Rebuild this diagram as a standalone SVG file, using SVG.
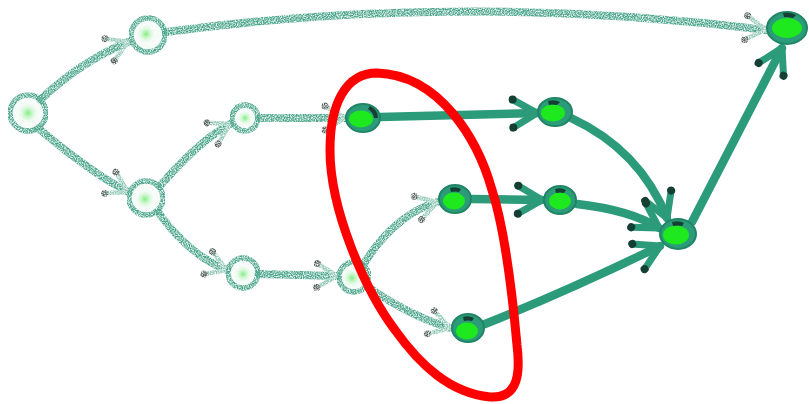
<svg xmlns="http://www.w3.org/2000/svg" width="809" height="404" viewBox="0 0 809 404">
<style>
.fe{fill:none;stroke:#4aa58a;stroke-width:8;stroke-linecap:round}
.se{fill:none;stroke:#2b9b79;stroke-width:8.5;stroke-linecap:round}
.fn{fill:#f2faf5;stroke:#4aa58a;stroke-width:5.5}
.fn-in{fill:url(#fg)}
.sn{fill:#2b9b79;stroke:#1f8565;stroke-width:2}
.sn-in{fill:#1ee81e}
.sn-dk{fill:#153f33}
.loop{fill:none;stroke:#ff0000;stroke-width:9;stroke-linejoin:round}
</style>
<defs>
<filter id="speck" x="-5%" y="-20%" width="110%" height="140%">
<feTurbulence type="fractalNoise" baseFrequency="0.85" numOctaves="2" seed="3" result="n"/>
<feColorMatrix in="n" type="matrix" values="0 0 0 0 0  0 0 0 0 0  0 0 0 0 0  0 0 0 -2.2 1.75" result="m"/>
<feComposite in="SourceGraphic" in2="m" operator="in"/>
</filter>
<radialGradient id="fg"><stop offset="0" stop-color="#7fee7f"/><stop offset="1" stop-color="#f2faf5" stop-opacity="0"/></radialGradient>
<marker id="sa" markerUnits="userSpaceOnUse" viewBox="-30 -20 36 40" refX="0" refY="0" markerWidth="36" markerHeight="40" orient="auto" overflow="visible">
<path d="M-24,-14 L0,0 L-24,14" fill="none" stroke="#2b9b79" stroke-width="7" stroke-linecap="round" stroke-linejoin="round"/>
<circle cx="-24" cy="-14" r="4" fill="#153f33"/>
<circle cx="-24" cy="14" r="4" fill="#153f33"/>
</marker>
<marker id="fa" markerUnits="userSpaceOnUse" viewBox="-30 -20 36 40" refX="0" refY="0" markerWidth="36" markerHeight="40" orient="auto" overflow="visible">
<path d="M-20,-12 L0,0 L-20,12" fill="none" stroke="#8fc7b4" stroke-width="4.5" stroke-linecap="round"/>
<circle cx="-20" cy="-12" r="3.5" fill="#55615c"/>
<circle cx="-20" cy="12" r="3.5" fill="#55615c"/>
</marker>
</defs>
<rect width="809" height="404" fill="#ffffff"/>
<g id="connectors">
<g id="faded-edges" filter="url(#speck)">
<path class="fe" d="M40,100 Q80,62 128,42" marker-end="url(#fa)"/>
<path class="fe" d="M38,128 Q90,172 128,192" marker-end="url(#fa)"/>
<path class="fe" d="M166,32 Q460,-8 766,30" marker-end="url(#fa)"/>
<path class="fe" d="M160,186 Q200,140 230,124" marker-end="url(#fa)"/>
<path class="fe" d="M158,212 Q190,256 227,270" marker-end="url(#fa)"/>
<path class="fe" d="M258,274 L337,276" marker-end="url(#fa)"/>
<path class="fe" d="M259,118 L345,118" marker-end="url(#fa)"/>
<path class="fe" d="M365,262 Q395,215 437,202" marker-end="url(#fa)"/>
<path class="fe" d="M368,287 Q410,316 450,328" marker-end="url(#fa)"/>
</g>
<g id="solid-edges">
<path class="se" d="M380,117 L537,113" marker-end="url(#sa)"/>
<path class="se" d="M472,199 L542,200" marker-end="url(#sa)"/>
<path class="se" d="M571,118 Q640,150 667,218" marker-end="url(#sa)"/>
<path class="se" d="M577,204 Q630,210 659,228" marker-end="url(#sa)"/>
<path class="se" d="M485,324 Q570,290 660,246" marker-end="url(#sa)"/>
<path class="se" d="M692,222 Q740,130 782,48" marker-end="url(#sa)"/>
</g>
</g>
<g id="faded-nodes">
<g id="node-A"><circle class="fn" cx="28" cy="113" r="18" filter="url(#speck)"/><circle class="fn-in" cx="28" cy="113" r="11"/></g>
<g id="node-B"><circle class="fn" cx="148" cy="35" r="17" filter="url(#speck)"/><circle class="fn-in" cx="146" cy="34" r="10"/></g>
<g id="node-C"><circle class="fn" cx="245" cy="118" r="13" filter="url(#speck)"/><circle class="fn-in" cx="245" cy="118" r="8"/></g>
<g id="node-D"><circle class="fn" cx="146" cy="198" r="17" filter="url(#speck)"/><circle class="fn-in" cx="145" cy="199" r="10"/></g>
<g id="node-E"><circle class="fn" cx="243" cy="273" r="15" filter="url(#speck)"/><circle class="fn-in" cx="243" cy="274" r="9"/></g>
<g id="node-F"><circle class="fn" cx="354" cy="277" r="15" filter="url(#speck)"/><circle class="fn-in" cx="352" cy="278" r="10"/></g>
</g>
<g id="node-G"><ellipse class="sn" cx="363" cy="118" rx="17" ry="14"/><ellipse class="sn-in" cx="361" cy="119" rx="12" ry="8.5"/><path class="sn-dk" d="M370,106 Q378,110 378,118 L374,118 Q373,112 368,109 Z"/></g>
<g id="node-H"><ellipse class="sn" cx="555" cy="112" rx="17" ry="14"/><ellipse class="sn-in" cx="553" cy="113" rx="12" ry="8.5"/><path class="sn-dk" d="M548,101 Q555,99 560,102 L557,105 Q552,104 549,105 Z"/></g>
<g id="node-I"><ellipse class="sn" cx="455" cy="199" rx="16" ry="14"/><ellipse class="sn-in" cx="454" cy="201" rx="11" ry="8.5"/><path class="sn-dk" d="M450,188 Q456,186 461,189 L459,192 Q455,191 451,192 Z"/></g>
<g id="node-J"><ellipse class="sn" cx="560" cy="200" rx="16" ry="14"/><ellipse class="sn-in" cx="560" cy="201" rx="11" ry="8.5"/><path class="sn-dk" d="M555,189 Q561,187 566,190 L564,193 Q560,192 556,193 Z"/></g>
<g id="node-K"><ellipse class="sn" cx="468" cy="328" rx="16" ry="14"/><ellipse class="sn-in" cx="467" cy="331" rx="11" ry="8.5"/><path class="sn-dk" d="M463,317 Q469,315 474,318 L472,321 Q468,320 464,321 Z"/></g>
<g id="node-L"><ellipse class="sn" cx="678" cy="234" rx="18" ry="15"/><ellipse class="sn-in" cx="676" cy="235" rx="13" ry="9.5"/><path class="sn-dk" d="M672,222 Q679,220 684,223 L682,226 Q678,225 673,226 Z"/></g>
<g id="node-M"><ellipse class="sn" cx="787" cy="28" rx="20" ry="16"/><ellipse class="sn-in" cx="787" cy="28" rx="15" ry="10"/><path class="sn-dk" d="M783,13 Q790,12 796,15 L793,18 Q789,17 784,17 Z"/></g>
<g id="highlight-loop"><path class="loop" d="M377,73 C345,73 330,105 330,150 C330,210 365,290 395,330 C420,365 450,393 490,397 C520,399 520,370 517,345 C512,290 505,230 492,190 C478,140 440,75 377,73 Z"/></g>
</svg>
